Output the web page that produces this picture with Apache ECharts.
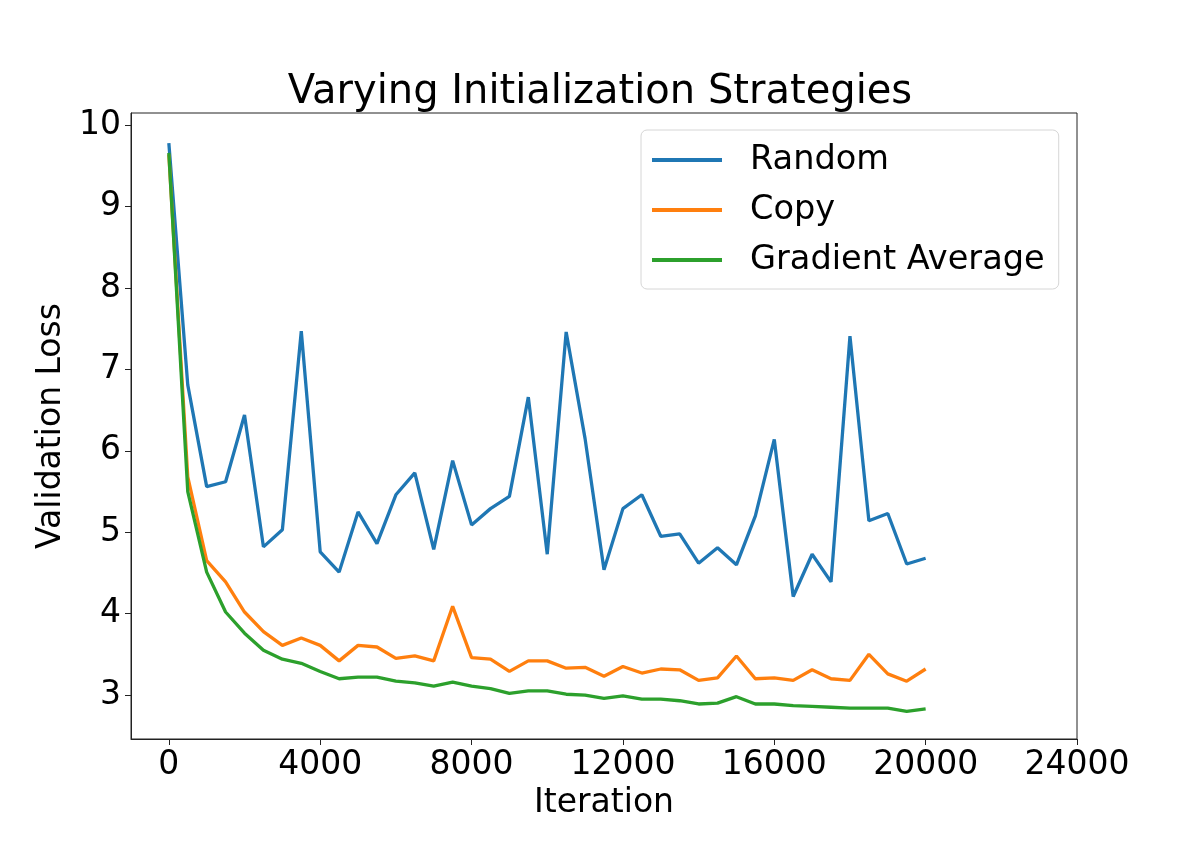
<!DOCTYPE html>
<html>
<head>
<meta charset="utf-8">
<script src="https://cdn.jsdelivr.net/npm/echarts@6/dist/echarts.min.js"></script>
<style>
  html, body { margin: 0; padding: 0; background: #fff; }
  #chart { width: 1200px; height: 866px; }
</style>
</head>
<body>
<div id="chart"></div>
<script>
// validation loss every 500 iterations
var iterations = [0, 500, 1000, 1500, 2000, 2500, 3000, 3500, 4000, 4500,
    5000, 5500, 6000, 6500, 7000, 7500, 8000, 8500, 9000, 9500,
    10000, 10500, 11000, 11500, 12000, 12500, 13000, 13500, 14000, 14500,
    15000, 15500, 16000, 16500, 17000, 17500, 18000, 18500, 19000, 19500, 20000];

var randomLoss = [9.78, 6.81, 5.56, 5.62, 6.44, 4.82, 5.03, 7.47, 4.76, 4.51,
    5.25, 4.86, 5.46, 5.73, 4.79, 5.88, 5.09, 5.29, 5.44, 6.66,
    4.73, 7.46, 6.15, 4.54, 5.29, 5.46, 4.95, 4.98, 4.62, 4.81,
    4.60, 5.20, 6.14, 4.21, 4.73, 4.39, 7.41, 5.14, 5.23, 4.61, 4.68];

var copyLoss = [9.64, 5.68, 4.65, 4.39, 4.02, 3.78, 3.61, 3.70, 3.61, 3.42,
    3.61, 3.59, 3.45, 3.48, 3.42, 4.09, 3.46, 3.44, 3.29, 3.42,
    3.42, 3.33, 3.34, 3.23, 3.35, 3.27, 3.32, 3.31, 3.18, 3.21,
    3.48, 3.20, 3.21, 3.18, 3.31, 3.20, 3.18, 3.50, 3.26, 3.17, 3.32];

var gradAvgLoss = [9.66, 5.50, 4.51, 4.02, 3.76, 3.55, 3.44, 3.39, 3.29, 3.20,
    3.22, 3.22, 3.17, 3.15, 3.11, 3.16, 3.11, 3.08, 3.02, 3.05,
    3.05, 3.01, 3.00, 2.96, 2.99, 2.95, 2.95, 2.93, 2.89, 2.90,
    2.98, 2.89, 2.89, 2.87, 2.86, 2.85, 2.84, 2.84, 2.84, 2.80, 2.83];

var xTicks = [0, 4000, 8000, 12000, 16000, 20000, 24000];
var yTicks = [3, 4, 5, 6, 7, 8, 9, 10];

function pairs(values) {
    return iterations.map(function (it, i) { return [it, values[i]]; });
}

var font = 'DejaVu Sans';
var myChart = echarts.init(document.getElementById('chart'));

var option = {
    animation: false,
    backgroundColor: '#fff',
    title: {
        text: 'Varying Initialization Strategies',
        left: 'center',
        top: 68,
        textStyle: { fontFamily: font, fontSize: 40, fontWeight: 'normal', color: '#000' }
    },
    grid: {
        left: 131, right: 123, top: 113, bottom: 127,
        show: true, borderColor: '#222', borderWidth: 1, backgroundColor: '#fff'
    },
    legend: {
        orient: 'vertical',
        left: 641,
        top: 130,
        padding: [10, 14, 9, 11],
        itemGap: 10,
        itemWidth: 70,
        itemHeight: 4,
        icon: 'rect',
        backgroundColor: '#fff',
        borderColor: '#d6d6d6',
        borderWidth: 1,
        borderRadius: 6,
        textStyle: {
            fontFamily: font, fontSize: 33.6, color: '#000',
            lineHeight: 40, padding: [0, 0, 0, 23]
        },
        data: ['Random', 'Copy', 'Gradient Average']
    },
    xAxis: {
        type: 'value',
        min: -1000,
        max: 24000,
        name: 'Iteration',
        nameLocation: 'middle',
        nameGap: 46,
        nameTextStyle: { fontFamily: font, fontSize: 33, color: '#000' },
        axisLine: { show: true, onZero: false, lineStyle: { color: '#222', width: 1 } },
        axisTick: { show: true, length: 6, customValues: xTicks, lineStyle: { color: '#222' } },
        axisLabel: {
            customValues: xTicks, margin: 10,
            formatter: function (v) { return String(v); },
            fontFamily: font, fontSize: 33, color: '#000'
        },
        splitLine: { show: false }
    },
    yAxis: {
        type: 'value',
        min: 2.46,
        max: 10.15,
        name: 'Validation Loss',
        nameLocation: 'middle',
        nameGap: 58,
        nameTextStyle: { fontFamily: font, fontSize: 33, color: '#000' },
        axisLine: { show: true, onZero: false, lineStyle: { color: '#222', width: 1 } },
        axisTick: { show: true, length: 6, customValues: yTicks, lineStyle: { color: '#222' } },
        axisLabel: {
            customValues: yTicks, margin: 10,
            fontFamily: font, fontSize: 33, color: '#000'
        },
        splitLine: { show: false }
    },
    series: [
        {
            name: 'Random', type: 'line', data: pairs(randomLoss),
            showSymbol: false, symbol: 'none', color: '#1f77b4',
            lineStyle: { width: 3.3, color: '#1f77b4' }
        },
        {
            name: 'Copy', type: 'line', data: pairs(copyLoss),
            showSymbol: false, symbol: 'none', color: '#ff7f0e',
            lineStyle: { width: 3.3, color: '#ff7f0e' }
        },
        {
            name: 'Gradient Average', type: 'line', data: pairs(gradAvgLoss),
            showSymbol: false, symbol: 'none', color: '#2ca02c',
            lineStyle: { width: 3.3, color: '#2ca02c' }
        }
    ]
};

myChart.setOption(option);
</script>
</body>
</html>
